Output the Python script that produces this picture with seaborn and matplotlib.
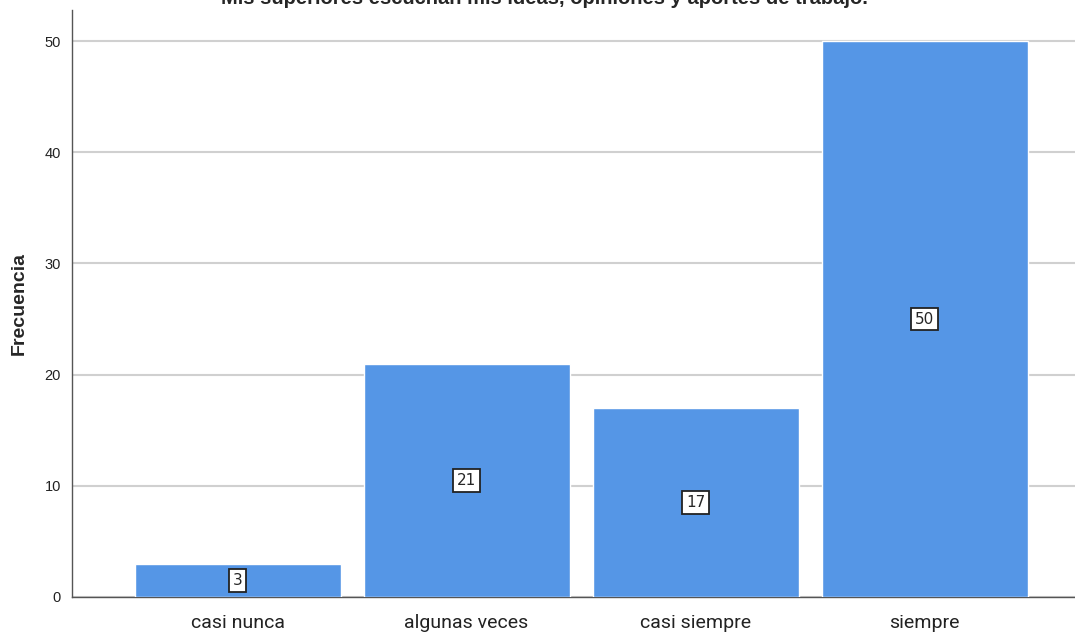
import pandas as pd
import matplotlib
matplotlib.use("Agg")
import matplotlib.pyplot as plt
import seaborn as sns

categorias = ["casi nunca", "algunas veces", "casi siempre", "siempre"]
frecuencias = [3, 21, 17, 50]
titulo = "Mis superiores escuchan mis ideas, opiniones y aportes de trabajo."

df = pd.DataFrame({"Respuesta": categorias, "Frecuencia": frecuencias})

sns.set_theme(style="white")
plt.rcParams["font.family"] = ["Liberation Sans", "DejaVu Sans"]

fig = plt.figure(figsize=(10.75, 6.32), dpi=100)
ax = fig.add_axes([72 / 1075, 35 / 632, 1 - 72 / 1075, 587 / 632])

sns.barplot(data=df, x="Respuesta", y="Frecuencia", color="#5596E6",
            saturation=1, width=0.9, ax=ax, zorder=3)

# etiquetas en el centro de cada barra
for i, v in enumerate(frecuencias):
    ax.text(i, v / 2, str(v), ha="center", va="center", fontsize=11,
            family="Liberation Sans Narrow", zorder=5,
            bbox=dict(boxstyle="square,pad=0.25", fc="white", ec="#222222", lw=1.3))

ax.set_xlim(-0.723, 3.657)
ax.set_ylim(0, 52.8)
ax.set_yticks([0, 10, 20, 30, 40, 50])
ax.yaxis.grid(True, color="#d0d0d0", linewidth=1.5, zorder=0)
ax.set_axisbelow(True)

for s in ["top", "right"]:
    ax.spines[s].set_visible(False)
for s in ["left", "bottom"]:
    ax.spines[s].set_color("#555555")
    ax.spines[s].set_linewidth(1.0)

ax.tick_params(axis="y", labelsize=10.5, length=0, pad=8, colors="#222222")
ax.tick_params(axis="x", labelsize=14, length=0, pad=12, colors="#222222")
for lbl in ax.get_xticklabels():
    lbl.set_family("Roboto")
ax.set_xlabel("")
ax.set_ylabel("Frecuencia", fontsize=14, fontweight="bold", labelpad=12)

fig.text(544 / 1075, 1.003, titulo, ha="center", va="center",
         fontsize=14.5, fontweight="bold")

fig.savefig("out.png", dpi=100)
